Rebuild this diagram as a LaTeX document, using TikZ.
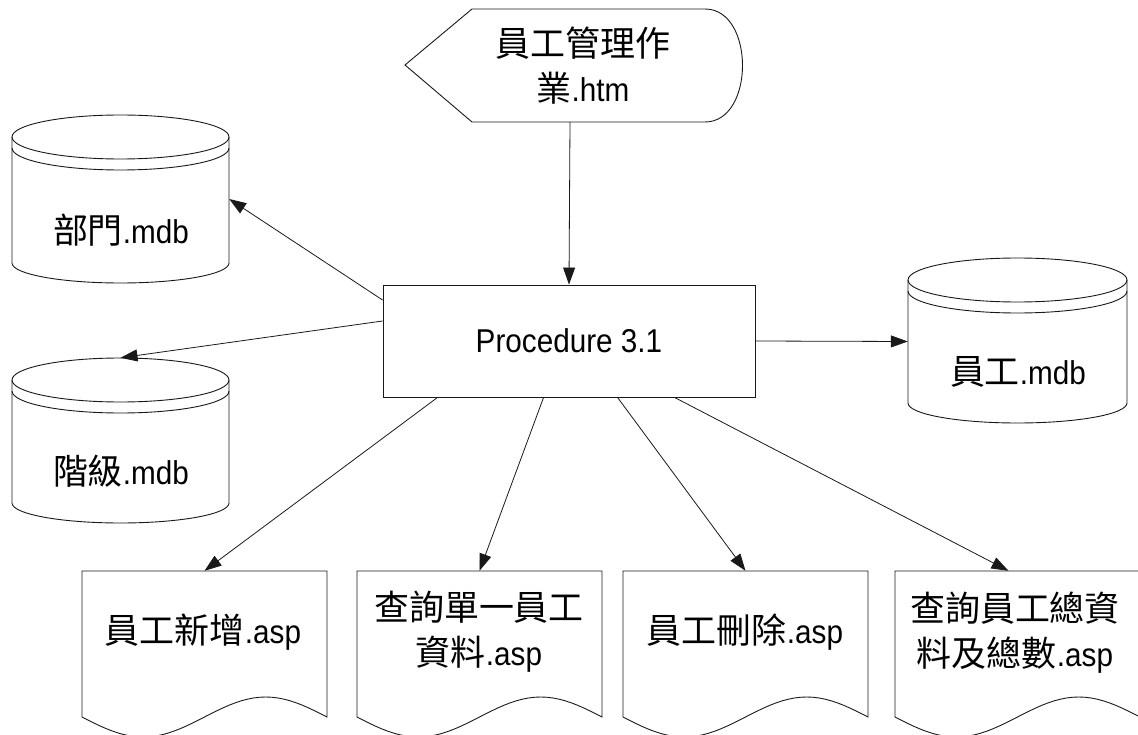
\documentclass[tikz,border=0pt]{standalone}
\usepackage{fontspec}
\setmainfont[FakeStretch=0.9]{Liberation Sans}
\newfontfamily\cjk[Scale=1.06]{Noto Sans CJK TC}
\usetikzlibrary{arrows.meta}
\newcommand\dbcyl[4]{%
  \pgfmathsetmacro\cylcx{(#1+#2)/2}\pgfmathsetmacro\cylrx{(#2-#1)/2}%
  \draw[outline] (\cylcx,#3) ellipse [x radius=\cylrx pt, y radius=22pt];
  \draw[outline] (#1,#3) -- (#1,#4) arc[start angle=180,end angle=360,x radius=\cylrx pt,y radius=20pt] -- (#2,#3);
  \draw[outline] (#1,#3+11) arc[start angle=180,end angle=360,x radius=\cylrx pt,y radius=22pt];
}
\newcommand\docshape[2]{%
  \draw[outline] (#1,717) -- (#1,571) -- (#2,571) -- (#2,717) -- plot[domain=1:0,samples=41,variable=\t] ({#1+\t*(#2-#1)},{717+20*sin(360*\t)});
}
\begin{document}
\begin{tikzpicture}[x=1pt,y=-1pt,
  outline/.style={draw=black!90,line width=0.9pt},
  anchorbox/.style={draw=none,rectangle,inner sep=0pt},
  txt/.style={font=\fontsize{33}{45}\selectfont,align=center,inner sep=0pt},
  arr/.style={draw=black!90,line width=0.8pt,-{Triangle[length=17pt,width=12pt]}}]
\useasboundingbox (0,0) rectangle (1138,735);
% display shape
\draw[outline] (405,65) -- (472,9) -- (705,9) .. controls (755,9) and (755,122) .. (705,122) -- (472,122) -- cycle;
\node[anchorbox,minimum width=340pt,minimum height=113pt] (disp) at (570,65.5) {};
\node[txt] (dispT) at (583,66) {{\cjk 員工管理作}\\{\cjk 業}.htm};
% process box
\node[outline,rectangle,inner sep=0pt,minimum width=372pt,minimum height=112pt,txt] (proc) at (569,341) {Procedure 3.1};
% databases
\dbcyl{12}{229}{137}{263}
\node[anchorbox,minimum width=217pt,minimum height=168pt] (dept) at (120.5,199) {};
\node[txt] (deptT) at (121,230) {{\cjk 部門}.mdb};
\dbcyl{12}{229}{380}{503}
\node[anchorbox,minimum width=217pt,minimum height=165pt] (grade) at (120.5,440.5) {};
\node[txt] (gradeT) at (121,471) {{\cjk 階級}.mdb};
\dbcyl{908}{1127}{280}{403}
\node[anchorbox,minimum width=219pt,minimum height=167pt] (emp) at (1017.5,341.5) {};
\node[txt] (empT) at (1018,372) {{\cjk 員工}.mdb};
% documents
\docshape{82}{327}
\node[anchorbox,minimum width=245pt,minimum height=164pt] (doc1) at (204.5,653) {};
\node[txt] (doc1T) at (203,632) {{\cjk 員工新增}.asp};
\docshape{357}{602}
\node[anchorbox,minimum width=245pt,minimum height=164pt] (doc2) at (479.5,653) {};
\node[txt] (doc2T) at (479,632) {{\cjk 查詢單一員工}\\{\cjk 資料}.asp};
\docshape{623}{868}
\node[anchorbox,minimum width=245pt,minimum height=164pt] (doc3) at (745.5,653) {};
\node[txt] (doc3T) at (745,632) {{\cjk 員工刪除}.asp};
\docshape{895}{1140}
\node[anchorbox,minimum width=245pt,minimum height=164pt] (doc4) at (1017.5,653) {};
\node[txt] (doc4T) at (1015,633) {{\cjk 查詢員工總資}\\{\cjk 料及總數}.asp};
% connectors
\draw[arr] (disp.south) -- (proc.north);
\draw[arr] ([yshift=41pt]proc.west) -- (dept.east);
\draw[arr] ([yshift=20pt]proc.west) -- (grade.north);
\draw[arr] (proc.east) -- (emp.west);
\draw[arr] ([xshift=55pt]proc.south west) -- (doc1.north);
\draw[arr] ([xshift=161pt]proc.south west) -- (doc2.north);
\draw[arr] ([xshift=235pt]proc.south west) -- (doc3.north);
\draw[arr] ([xshift=292pt]proc.south west) -- ([xshift=-9pt]doc4.north);
\end{tikzpicture}
\end{document}
